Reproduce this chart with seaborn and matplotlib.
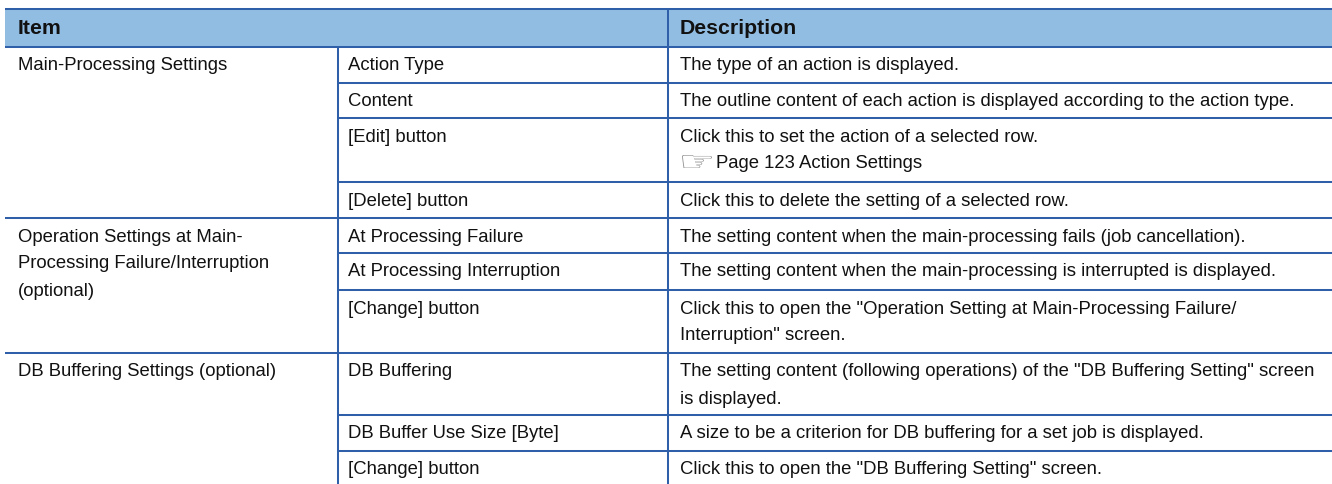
import matplotlib
matplotlib.use('Agg')
import matplotlib.pyplot as plt
from matplotlib.font_manager import FontProperties
from matplotlib.patches import PathPatch
from matplotlib.textpath import TextPath
from matplotlib.transforms import Affine2D
import numpy as np
import seaborn as sns

W, H = 1332, 484

# TABLE TEXT
header_labels = ['Item', 'Description']
item_labels = ['Main-Processing Settings',
               'Operation Settings at Main-\nProcessing Failure/Interruption\n(optional)',
               'DB Buffering Settings (optional)']
sub_labels = ['Action Type', 'Content', '[Edit] button', '[Delete] button',
              'At Processing Failure', 'At Processing Interruption', '[Change] button',
              'DB Buffering', 'DB Buffer Use Size [Byte]', '[Change] button']
descriptions = ['The type of an action is displayed.',
                'The outline content of each action is displayed according to the action type.',
                'Click this to set the action of a selected row.',
                'Click this to delete the setting of a selected row.',
                'The setting content when the main-processing fails (job cancellation).',
                'The setting content when the main-processing is interrupted is displayed.',
                'Click this to open the "Operation Setting at Main-Processing Failure/\nInterruption" screen.',
                'The setting content (following operations) of the "DB Buffering Setting" screen\nis displayed.',
                'A size to be a criterion for DB buffering for a set job is displayed.',
                'Click this to open the "DB Buffering Setting" screen.']
page_ref = 'Page 123 Action Settings'

# ROW LINES, IN PIXELS FROM THE TOP
row_edges = [47, 83, 118, 182, 218, 253, 290, 353, 415, 451, 487]
item_rows = [0, 4, 7]

LINE = '#2f5fa8'
HEAD = '#92bde3'
INK = '#111111'

sns.set_theme(style='white')
plt.rcParams['font.family'] = ['Liberation Sans', 'DejaVu Sans']

fig = plt.figure(figsize=(W / 100, H / 100), dpi=100)
ax = fig.add_axes([0, 0, 1, 1])
ax.set_xlim(0, W)
ax.set_ylim(H, 0)
ax.axis('off')

# HEADER BAND
head_ax = fig.add_axes([5 / W, 1 - 47 / H, (W - 5) / W, 38 / H], zorder=-1)
sns.heatmap(np.zeros((1, 1)), cmap=[HEAD], cbar=False, xticklabels=False,
            yticklabels=False, ax=head_ax)

X0, X1, X2, X3 = 5, 338, 668, W
FS = 13.3
LINE_H = 27


def put_lines(x, top, label):
    # ONE TEXT PER LINE SO THE BASELINES LAND ON THE PIXEL GRID
    for n, part in enumerate(label.split('\n')):
        ax.text(x, top + 23.5 + n * LINE_H, part, fontsize=FS, color=INK, va='baseline')


ax.text(18, 34, header_labels[0], fontsize=15.3, fontweight='bold', color=INK, va='baseline')
ax.text(680, 34, header_labels[1], fontsize=15.3, fontweight='bold', color=INK, va='baseline')

# RULES
ax.hlines([9, 47], X0, X3, color=LINE, lw=1.45)
ax.vlines(X2, 9, H, color=LINE, lw=1.45)
ax.vlines(X1, 47, H, color=LINE, lw=1.45)
for i, y in enumerate(row_edges[1:-1], start=1):
    start = X0 if i in item_rows else X1
    ax.hlines(y, start, X3, color=LINE, lw=1.45)

# BODY TEXT
for i, (s, d) in enumerate(zip(sub_labels, descriptions)):
    put_lines(348, row_edges[i], s)
    put_lines(680, row_edges[i], d)
for r, label in zip(item_rows, item_labels):
    put_lines(18, row_edges[r], label)

# PAGE REFERENCE, HAND ICON STRETCHED TO THE FLAT SHAPE OF THE ORIGINAL
hand = TextPath((0, 0), '\u261e', size=10, prop=FontProperties(family='DejaVu Sans'))
box = hand.get_extents()
fit = Affine2D().translate(-box.x0, -box.y0).scale(30 / box.width, -13 / box.height).translate(682, 168)
ax.add_patch(PathPatch(hand, transform=fit + ax.transData, fc='#8f8f8f', ec='none'))
ax.text(716, 168, page_ref, fontsize=FS, color=INK, va='baseline')

fig.savefig('out.png', dpi=100)
